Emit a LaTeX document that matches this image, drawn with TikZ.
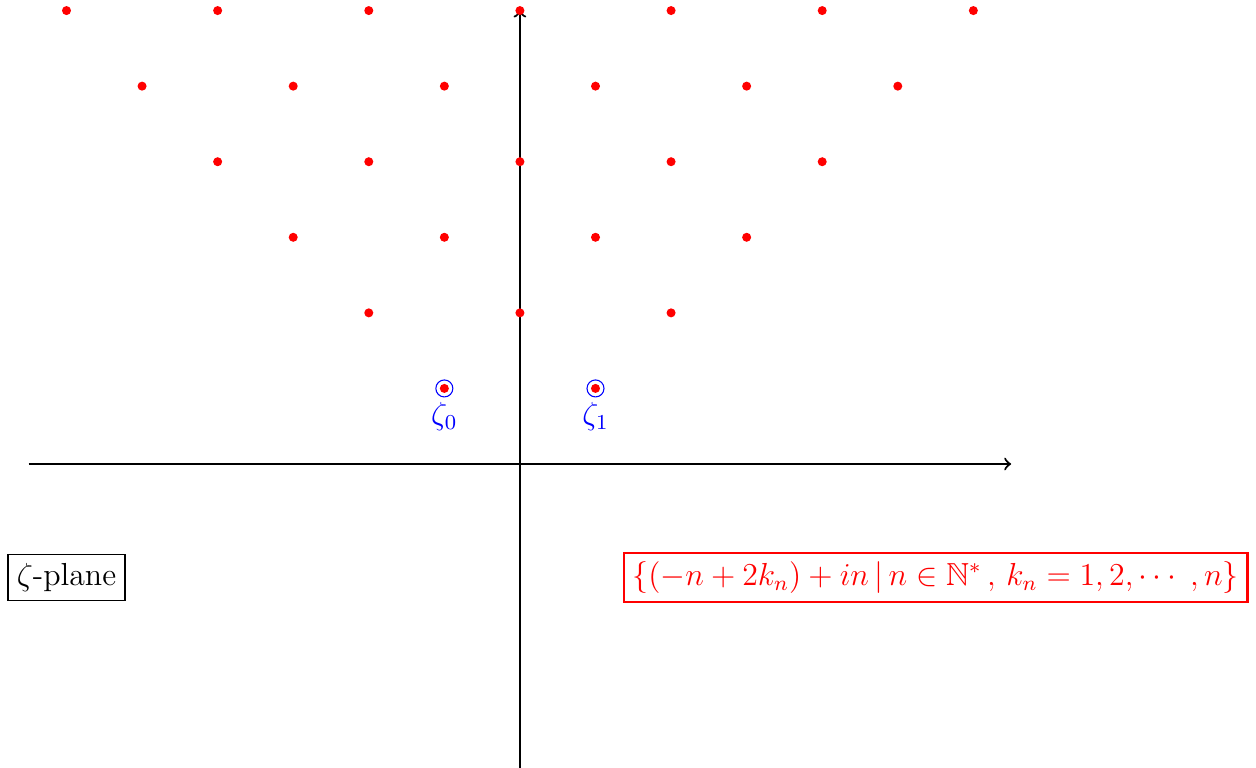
\documentclass[tikz,border=0pt]{standalone}
\usepackage{amssymb}
\usetikzlibrary{positioning}
\begin{document}
\begin{tikzpicture}[
  axis/.style={thick,->},
  dot/.style={circle,fill=red,inner sep=0pt,minimum size=3.4pt},
  ring/.style={circle,draw=blue,inner sep=0pt,minimum size=6.4pt},
  lbl/.style={blue,font=\large},
  plainbox/.style={draw,font=\large},
  setbox/.style={draw=red,thick,text=red,font=\large}
]
\useasboundingbox (-6.88,-4.02) rectangle (9.74,6.14);
\coordinate (xl) at (-6.5,0);
\coordinate (xr) at (6.5,0);
\coordinate (yb) at (0,-4.02);
\coordinate (yt) at (0,6);
\draw[axis] (xl) -- (xr);
\draw[axis] (yb) -- (yt);
\foreach \n in {2,...,6}{
  \foreach \k in {0,...,\n}{
    \pgfmathtruncatemacro{\xx}{-\n+2*\k}
    \node[dot] (p\n-\k) at (\xx,\n) {};
  }
}
\node[ring] (r0) at (-1,1) {};
\node[ring] (r1) at (1,1) {};
\node[dot] (z0) at (-1,1) {};
\node[dot] (z1) at (1,1) {};
\node[lbl,below=-1.5pt of r0] (l0) {$\zeta_0$};
\node[lbl,below=-1.5pt of r1] (l1) {$\zeta_1$};
\node[plainbox] (plane) at (-6,-1.5) {$\zeta$-plane};
\node[setbox] (set) at (5.5,-1.5) {$\{(-n+2k_n)+in\,|\,n\in\mathbb{N}^*\,,\,k_n=1,2,\cdots\;,n\}$};
\end{tikzpicture}
\end{document}
